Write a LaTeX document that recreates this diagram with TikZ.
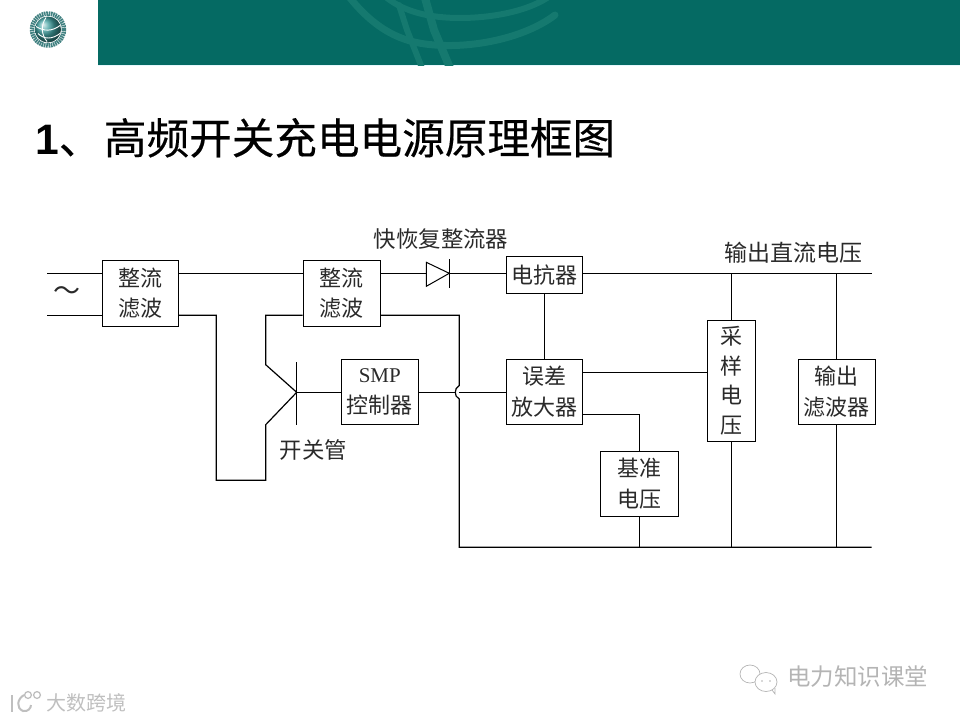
\documentclass[tikz,border=0pt]{standalone}
\usepackage{fontspec}
\newfontfamily\cjk{Noto Sans CJK SC}
\newfontfamily\cjktitle[FakeBold=0.35]{Noto Sans CJK SC}
\newfontfamily\lat{Liberation Sans}
\newfontfamily\serifl{Liberation Serif}
\definecolor{banner}{HTML}{056A63}
\definecolor{bannerlt}{HTML}{15796F}
\definecolor{ink}{HTML}{2A2A2A}
\definecolor{wm}{HTML}{B4B4B4}
\tikzset{
  x=1pt,y=-1pt,
  wire/.style={draw=black,line width=1.2pt},
  block/.style={draw=black,line width=1.2pt,fill=white,inner sep=0pt,align=center,text=ink,
    font=\cjk\fontsize{22}{30.6}\selectfont},
  lab/.style={inner sep=0pt,text=ink,font=\cjk\fontsize{22.4}{26}\selectfont},
  arcband/.style={draw=bannerlt,line cap=round},
}
\begin{document}
\begin{tikzpicture}
\useasboundingbox (0,0) rectangle (960,720);
% banner
\fill[banner] (98,0) rectangle (960,65);
\fill[cyan!10] (98,65) rectangle (960,66.2);
\begin{scope}
\clip (98,0) rectangle (960,65);
\draw[arcband,line width=7pt] (350,-2) .. controls (372,25) and (395,40) .. (425,44) .. controls (470,50) and (525,38) .. (555,15);
\draw[arcband,line width=6pt] (387,-2) .. controls (405,12) and (430,18) .. (460,18) .. controls (490,18) and (525,12) .. (547,-2);
\draw[arcband,line width=6pt] (399,5) -- (407,30) -- (422,68);
\draw[arcband,line width=8pt] (425,-2) -- (434,30) -- (450,68);
\end{scope}
% logo
\shade[ball color=teal!75] (48,29.5) circle[radius=13];
\draw[draw=teal!50!gray,line width=4.5pt,dash pattern=on 1.6pt off 0.7pt] (48,29.5) circle[radius=16];
\draw[white,line width=0.9pt] (38,33.5) .. controls (44,39.5) and (52,39.5) .. (60,33.5);
\draw[white,line width=0.9pt] (36,26.5) .. controls (44,31.5) and (52,31.5) .. (60,25.5);
\draw[white,line width=0.9pt] (46,17.5) .. controls (40,26.5) and (42,35.5) .. (47,41.5);
% title
\node[anchor=base west,inner sep=0pt,font=\cjktitle\fontsize{42.6}{46}\selectfont] (title) at (35,154)
  {{\lat\bfseries 1}、\kern2.5pt 高频开关充电电源原理框图};
% level coordinates
\coordinate (Ytop) at (0,273.3);
\coordinate (Ylow) at (0,315.3);
\coordinate (Ybot) at (0,547.3);
\coordinate (Ymid) at (0,392.3);
\coordinate (Yerrhi) at (0,372.3);
\coordinate (Yerrlo) at (0,414.3);
\coordinate (Xin) at (47,0);
\coordinate (Xout) at (871.5,0);
\coordinate (Xa) at (216.3,0);
\coordinate (Xb) at (265.7,0);
\coordinate (Xc) at (459.3,0);
% blocks
\node[block,minimum width=76pt,minimum height=66pt] (rect1) at (140.3,293.3) {整流\\滤波};
\node[block,minimum width=77pt,minimum height=66pt] (rect2) at (341.8,293.3) {整流\\滤波};
\node[block,minimum width=77pt,minimum height=65pt] (smp) at (379.8,391.8) {{\serifl\fontsize{21}{30.6}\selectfont SMP}\\控制器};
\node[block,minimum width=76.4pt,minimum height=37pt] (react) at (544.5,274.8) {电抗器};
\node[block,minimum width=76.4pt,minimum height=65pt] (err) at (544.5,391.8) {误差\\放大器};
\node[block,minimum width=77.4pt,minimum height=65pt] (ref) at (639.5,483.8) {基准\\电压};
\node[block,minimum width=48pt,minimum height=121pt,font=\cjk\fontsize{22}{29.4}\selectfont] (samp) at (731.3,380.8) {采\\样\\电\\压};
\node[block,minimum width=77pt,minimum height=65pt] (filt) at (836.8,391.8) {输出\\滤波器};
% diode
\coordinate (dl) at (426.3,273.3);
\coordinate (dr) at (449.3,273.3);
\draw[line width=1pt] (426.3,262.3) -- (449.3,273.3) -- (426.3,286.3) -- cycle;
\draw[line width=1pt] (449.3,259.3) -- (449.3,287.7);
% transistor
\coordinate (base) at (296.7,392.3);
\coordinate (baset) at (296.7,362);
\coordinate (baseb) at (296.7,424.7);
\coordinate (coll) at (265.7,364.7);
\coordinate (emit) at (265.7,424.7);
\draw[line width=1pt] (baset) -- (baseb);
% wires
\draw[wire] (Xin |- Ytop) -- (rect1.west |- Ytop);
\draw[wire] (Xin |- Ylow) -- (rect1.west |- Ylow);
\draw[wire] (rect1.east |- Ytop) -- (rect2.west |- Ytop);
\draw[wire] (rect1.east |- Ylow) -| (Xa |- Ylow) -- (216.3,480.3) -- (265.7,480.3) -- (emit) -- (base);
\draw[wire] (rect2.west |- Ylow) -- (Xb |- Ylow) -- (coll) -- (base);
\draw[wire] (rect2.east |- Ytop) -- (dl);
\draw[wire] (dr) -- (react.west |- Ytop);
\draw[wire] (react.east |- Ytop) -- (Xout |- Ytop);
\draw[wire] (react) -- (err);
\draw[wire] (base) -- (smp.west |- Ymid);
\draw[wire] (smp.east |- Ymid) -- (455.3,392.3);
\draw[wire] (458.8,392.3) -- (err.west |- Ymid);
\draw[wire] (rect2.east |- Ylow) -- (Xc |- Ylow) -- (459.3,385.5) .. controls (456.5,387) and (455,390) .. (455.3,392.3) .. controls (455,395) and (456.5,397.5) .. (459.3,399) -- (Xc |- Ybot) -- (Xout |- Ybot);
\draw[wire] (err.east |- Yerrhi) -- (samp.west |- Yerrhi);
\draw[wire] (err.east |- Yerrlo) -| (ref.north);
\draw[wire] (ref.south) -- (ref.south |- Ybot);
\draw[wire] (samp.north) -- (samp.north |- Ytop);
\draw[wire] (samp.south) -- (samp.south |- Ybot);
\draw[wire] (filt.north) -- (filt.north |- Ytop);
\draw[wire] (filt.south) -- (filt.south |- Ybot);
% labels
\node[lab,font=\cjk\fontsize{27}{30}\selectfont] (ac) at (67,294) {～};
\node[lab] (lfast) at (441,239) {快恢复整流器};
\node[lab,font=\cjk\fontsize{23}{26}\selectfont] (lout) at (793,252.7) {输出直流电压};
\node[lab] (lsw) at (313.5,450) {开关管};
% watermarks
\node[inner sep=0pt,text=wm,font=\cjk\fontsize{23.5}{26}\selectfont] (wm1) at (857.5,677) {电力知识课堂};
\draw[wm,line width=0.7pt] (750,674) ellipse[x radius=10,y radius=9];
\draw[wm,line width=0.7pt,fill=white] (766,682) ellipse[x radius=11,y radius=9.5];
\draw[wm,line width=0.7pt] (772,690) -- (775,694) -- (775,688);
\fill[wm] (762,681) circle[radius=0.9] (770,681) circle[radius=0.9];
\node[inner sep=0pt,text=wm!85,font=\cjk\fontsize{20}{24}\selectfont] (wm2) at (86.5,703) {大数跨境};
\draw[wm!85,line width=2pt] (12,695) -- (12,712);
\draw[wm!85,line width=2pt] (24,695) .. controls (17,699) and (16,708) .. (23,711) .. controls (28,712) and (31,708) .. (31,705);
\draw[wm!85,line width=1.3pt] (28,695) circle[radius=3.4] (37,695) circle[radius=3.4];
\end{tikzpicture}
\end{document}
